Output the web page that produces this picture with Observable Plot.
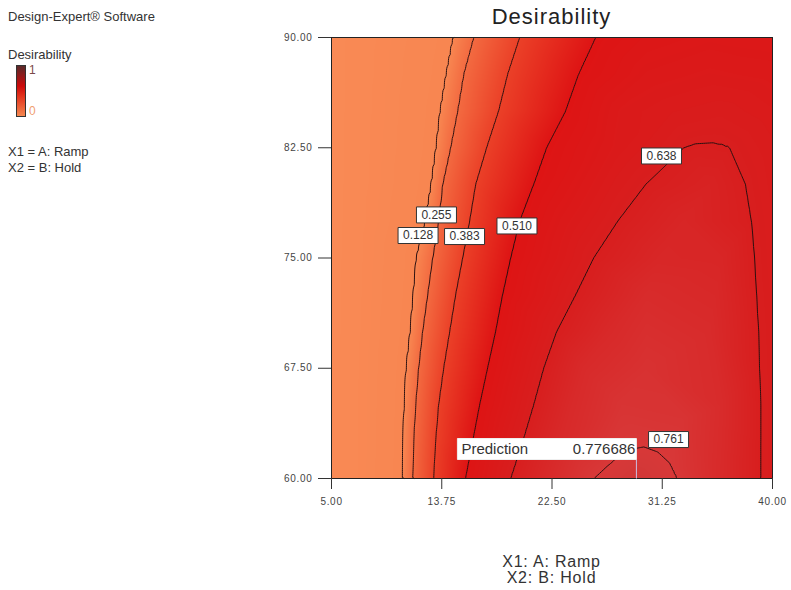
<!DOCTYPE html>
<html><head><meta charset="utf-8">
<script src="https://cdn.jsdelivr.net/npm/d3@7"></script>
<script src="https://cdn.jsdelivr.net/npm/@observablehq/plot@0.6"></script>
<style>
body{margin:0;background:#fff;font-family:"Liberation Sans",Arial,sans-serif;}
#wrap{position:relative;width:791px;height:590px;overflow:hidden;background:#fff;}
#chart{position:absolute;left:0;top:0;}
.t{position:absolute;white-space:nowrap;color:#333;z-index:2;}
#chart svg g[aria-label="x-axis tick label"] text,#chart svg g[aria-label="y-axis tick label"] text{letter-spacing:.7px;}
</style></head><body>
<div id="wrap">
<div id="chart"></div>
<div class="t" style="left:8px;top:9px;font-size:13px;">Design-Expert® Software</div>
<div class="t" style="left:8px;top:47px;font-size:13px;">Desirability</div>
<div style="position:absolute;z-index:2;left:16px;top:65px;width:8px;height:50px;border:1px solid #333;background:linear-gradient(to top,#F4874F 0%,#E2321C 40%,#CC0A0A 60%,#5A2A2A 100%);"></div>
<div class="t" style="left:29px;top:63px;font-size:12px;color:#7a4848;">1</div>
<div class="t" style="left:29px;top:104px;font-size:12px;color:#F0A070;">0</div>
<div class="t" style="left:8px;top:144px;font-size:13px;">X1 = A: Ramp</div>
<div class="t" style="left:8px;top:160px;font-size:13px;">X2 = B: Hold</div>
<div class="t" style="left:331px;width:441px;text-align:center;top:4px;font-size:22px;letter-spacing:1px;color:#222;">Desirability</div>
<div class="t" style="left:331px;width:441px;text-align:center;top:554px;font-size:16px;line-height:16px;letter-spacing:.8px;color:#333;">X1: A: Ramp<br>X2: B: Hold</div>
</div>
<script>
// ---- data ----
const rampTicks = [5, 13.75, 22.5, 31.25, 40];
const holdTicks = [60, 67.5, 75, 82.5, 90];
const levels = [0.128, 0.255, 0.383, 0.510, 0.638, 0.761];

// rows of Hold at which the contour crossings were read
const holdRows = [90, 87.5, 85, 82.5, 80, 77.5, 75, 72.5, 70, 67.5, 65, 62.5, 60];
const ramp128 = [14.68, 14.13, 13.65, 13.33, 12.94, 12.46, 11.75, 11.51, 11.27, 10.95, 10.79, 10.71, 10.63];
const ramp255 = [16.27, 15.48, 15.0, 14.44, 13.81, 13.49, 13.02, 12.62, 12.22, 11.9, 11.67, 11.51, 11.43];
const ramp383 = [19.92, 18.97, 18.25, 17.3, 16.43, 15.95, 15.4, 14.84, 14.37, 13.89, 13.49, 13.25, 13.1];
const ramp510 = [25.95, 24.6, 23.57, 22.06, 21.03, 19.92, 19.21, 18.57, 18.02, 17.38, 16.75, 16.19, 15.63];
// desirability at left edge (Ramp = 5) and right edge (Ramp = 40) for each row
const leftEdge = [0, 0, 0, 0, 0, 0, 0, 0, 0, 0, 0, 0, 0];
const rightEdge = [0.555, 0.575, 0.595, 0.61, 0.615, 0.62, 0.622, 0.625, 0.627, 0.628, 0.628, 0.628, 0.628];

// closed 0.638 contour
const hold638 = [82.5, 80, 77.5, 75, 72.5, 70, 67.5, 65, 62.5, 60];
const ramp638Left = [32.94, 29.92, 27.7, 25.79, 24.37, 22.86, 21.83, 21.03, 20.16, 19.21];
const ramp638Right = [36.59, 37.86, 38.33, 38.57, 38.73, 38.89, 38.97, 39.05, 39.05, 39.05];
const ramp638Top = [33.9, 35.3, 36.3];
const hold638Top = [82.78, 82.85, 82.7];

// 0.761 arc near the bottom
const ramp761 = [25.79, 27.38, 28.6, 29.8, 30.9, 31.9, 32.46];
const hold761 = [60, 61.22, 61.95, 62.15, 61.8, 61.0, 60];

// other readings inside the field (ramp, hold, desirability)
const extraRamp = [30, 35, 30, 35, 28, 32, 36, 27.5, 34, 35, 33, 36, 31, 30, 35, 27, 25, 30, 36, 23, 33, 28, 22.5, 36];
const extraHold = [90, 90, 87.5, 87.5, 85, 85, 85, 82.5, 81.5, 80, 77.5, 75, 75, 72.5, 70, 70, 67.5, 67.5, 65, 62.5, 64, 65, 60, 60];
const extraD = [0.545, 0.56, 0.57, 0.585, 0.585, 0.605, 0.615, 0.585, 0.648, 0.66, 0.675, 0.675, 0.68, 0.70, 0.70, 0.69, 0.695, 0.73, 0.70, 0.69, 0.74, 0.74, 0.70, 0.695];

// optimum / prediction flag
const predRamp = 29.2, predHold = 60, predValue = 0.776686;

// contour label placements
const labelText = ["0.128", "0.255", "0.383", "0.510", "0.638", "0.761"];
const labelRamp = [11.87, 13.33, 15.56, 19.72, 31.19, 31.75];
const labelHold = [76.53, 77.93, 76.46, 77.18, 81.94, 62.65];

// colour stops of the Design-Expert desirability ramp
const colorStops = [0, 0.128, 0.255, 0.383, 0.510, 0.638, 0.761, 1];
const colorRange = ["#F98A55", "#F88651", "#F36B41", "#EB4128", "#DE1414", "#D81E1E", "#D83838", "#6B2C2C"];

// ---- build point table ----
const pts = [];
holdRows.forEach((h, i) => {
  pts.push({ramp: 5, hold: h, d: leftEdge[i]});
  pts.push({ramp: ramp128[i], hold: h, d: 0.128});
  pts.push({ramp: ramp255[i], hold: h, d: 0.255});
  pts.push({ramp: ramp383[i], hold: h, d: 0.383});
  pts.push({ramp: ramp510[i], hold: h, d: 0.510});
  pts.push({ramp: 40, hold: h, d: rightEdge[i]});
});
hold638.forEach((h, i) => {
  pts.push({ramp: ramp638Left[i], hold: h, d: 0.638});
  pts.push({ramp: ramp638Right[i], hold: h, d: 0.638});
});
ramp638Top.forEach((r, i) => pts.push({ramp: r, hold: hold638Top[i], d: 0.638}));
ramp761.forEach((r, i) => pts.push({ramp: r, hold: hold761[i], d: 0.761}));
extraRamp.forEach((r, i) => pts.push({ramp: r, hold: extraHold[i], d: extraD[i]}));
pts.push({ramp: predRamp, hold: predHold, d: predValue});

const labels = labelText.map((t, i) => ({t, ramp: labelRamp[i], hold: labelHold[i]}));
const pred = [{ramp: predRamp, hold: predHold, v: predValue}];

const boxSym = {draw(ctx) { ctx.rect(-20, -8, 40, 16); }};
const predBox = {draw(ctx) { ctx.rect(-179, -40, 179, 21); }};
const predStem = {draw(ctx) { ctx.moveTo(0, 0); ctx.lineTo(0, -19); }};

const chart = Plot.plot({
  width: 791, height: 590,
  marginLeft: 331, marginRight: 19, marginTop: 37, marginBottom: 112,
  x: {domain: [5, 40]},
  y: {domain: [60, 90]},
  color: {type: "linear", domain: colorStops, range: colorRange, clamp: true},
  style: {fontFamily: "Liberation Sans, Arial, sans-serif", fontSize: "10px", color: "#444", background: "transparent"},
  marks: [
    Plot.raster(pts, {x: "ramp", y: "hold", fill: "d", interpolate: "barycentric", x1: 5, x2: 40, y1: 60, y2: 90}),
    Plot.contour(pts, {x: "ramp", y: "hold", value: "d", interpolate: "barycentric", x1: 5, x2: 40, y1: 60, y2: 90,
      thresholds: levels, fill: "none", stroke: "#2b1010", strokeWidth: 1}),
    Plot.frame({stroke: "#222"}),
    Plot.axisX({ticks: rampTicks, tickFormat: d3.format(".2f"), tickSize: 11, tickPadding: 8, label: null, stroke: "#333"}),
    Plot.axisY({ticks: holdTicks, tickFormat: d3.format(".2f"), tickSize: 13, tickPadding: 6, label: null, stroke: "#333"}),
    Plot.dot(pred, {x: "ramp", y: "hold", symbol: predStem, r: 5, fill: "none", stroke: "#cbbde0", strokeWidth: 1}),
    Plot.dot(pred, {x: "ramp", y: "hold", symbol: predBox, r: 5, fill: "white", stroke: "#eee", strokeWidth: 1}),
    Plot.text(pred, {x: "ramp", y: "hold", text: () => "Prediction", dx: -175, dy: -29, textAnchor: "start", fontSize: 15, fill: "#333"}),
    Plot.text(pred, {x: "ramp", y: "hold", text: d => String(d.v), dx: -1, dy: -29, textAnchor: "end", fontSize: 15, fill: "#333"}),
    Plot.dot(labels, {x: "ramp", y: "hold", symbol: boxSym, r: 5, fill: "white", stroke: "#333", strokeWidth: 1}),
    Plot.text(labels, {x: "ramp", y: "hold", text: "t", fontSize: 12, fill: "#333"})
  ]
});
document.getElementById("chart").appendChild(chart);
</script>
</body></html>
